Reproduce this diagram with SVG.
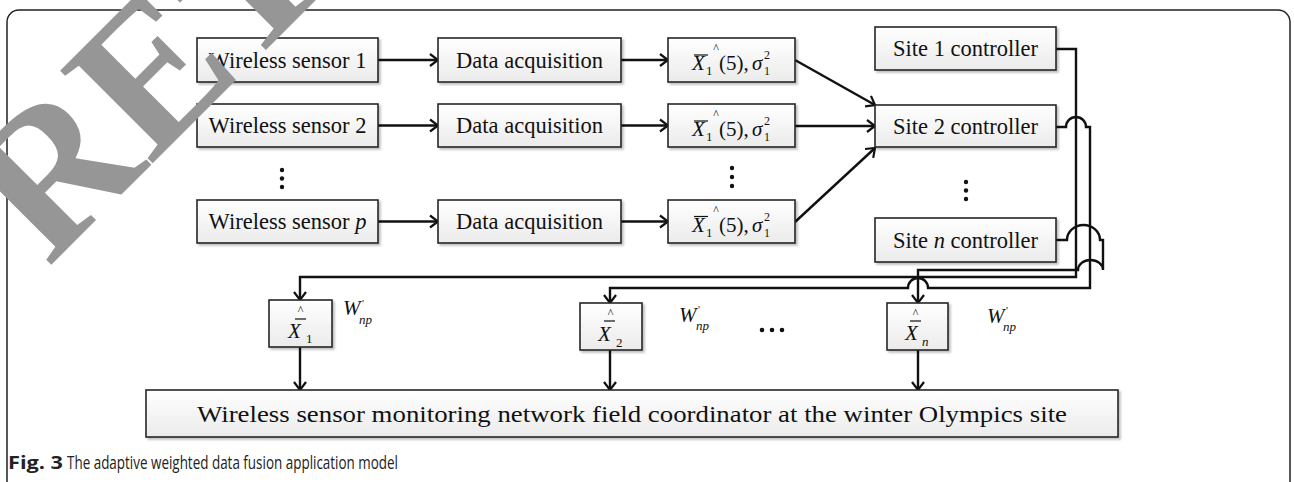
<svg xmlns="http://www.w3.org/2000/svg" width="1294" height="482" viewBox="0 0 1294 482">
<defs>
<linearGradient id="bg" x1="0" y1="0" x2="0" y2="1">
<stop offset="0" stop-color="#ffffff"/>
<stop offset="1" stop-color="#ebebeb"/>
</linearGradient>
<filter id="sh" x="-10%" y="-10%" width="130%" height="140%">
<feDropShadow dx="2" dy="2" stdDeviation="1.2" flood-color="#000" flood-opacity="0.25"/>
</filter>
<marker id="ah" viewBox="-10 -8 12 16" refX="0" refY="0" markerWidth="12" markerHeight="16" markerUnits="userSpaceOnUse" orient="auto">
<path d="M-8,-6 L0,0 L-8,6" fill="none" stroke="#111" stroke-width="2.2"/>
</marker>
<style>
.box{fill:url(#bg);stroke:#262626;stroke-width:1.6;filter:url(#sh)}
.t{font-family:"Liberation Serif","Times New Roman",serif;font-size:22.5px;fill:#111;text-anchor:middle}
.m{font-family:"Liberation Serif","Times New Roman",serif;fill:#111}
.i{font-style:italic}
.c{fill:none;stroke:#111;stroke-width:2.4}
.a{marker-end:url(#ah)}
.bar{stroke:#111;stroke-width:1.2}
.dot{fill:#111}
.cap{font-family:"Open Sans","Liberation Sans",sans-serif;font-size:18px;fill:#222}
</style>
</defs>
<rect x="0" y="0" width="1294" height="482" fill="#fff"/>
<rect id="frame" x="7" y="10" width="1283" height="500" rx="12" ry="12" fill="none" stroke="#222" stroke-width="1.5"/>

<g id="connectors">
<line class="c a" x1="378" y1="60" x2="438" y2="60"/>
<line class="c a" x1="378" y1="125.5" x2="438" y2="125.5"/>
<line class="c a" x1="378" y1="221.5" x2="438" y2="221.5"/>
<line class="c a" x1="621" y1="60" x2="668" y2="60"/>
<line class="c a" x1="621" y1="125.5" x2="668" y2="125.5"/>
<line class="c a" x1="621" y1="221.5" x2="668" y2="221.5"/>
<line class="c a" x1="795" y1="60" x2="875" y2="105"/>
<line class="c a" x1="795" y1="126" x2="875" y2="126"/>
<line class="c a" x1="795" y1="222" x2="875" y2="148"/>
<path class="c a" d="M1056,49 H1076 V277 H300 V300"/>
<path class="c a" d="M1056,127 H1066 A10,10 0 0 1 1086,127 H1090 V288 H928 A10,10 0 0 0 908,288 H610 V303"/>
<path class="c a" d="M1056,240 H1067 A16.5,15 0 0 1 1100,240 H1103 V270 A12.5,10 0 0 0 1078,270 H918 V303"/>
<line class="c a" x1="300" y1="347" x2="300" y2="390"/>
<line class="c a" x1="610" y1="350" x2="610" y2="390"/>
<line class="c a" x1="918" y1="350" x2="918" y2="390"/>
</g>

<g id="ws1"><rect class="box" x="197" y="38" width="181" height="44"/><text class="t" x="287.5" y="67.5">Wireless sensor 1</text></g>
<g id="ws2"><rect class="box" x="197" y="104" width="181" height="43"/><text class="t" x="287.5" y="133">Wireless sensor 2</text></g>
<g id="wsp"><rect class="box" x="197" y="200" width="181" height="43"/><text class="t" x="287.5" y="229">Wireless sensor <tspan class="i">p</tspan></text></g>
<g id="dots1"><circle class="dot" cx="282" cy="170" r="2.2"/><circle class="dot" cx="282" cy="178.5" r="2.2"/><circle class="dot" cx="282" cy="187" r="2.2"/></g>

<g id="da1"><rect class="box" x="438" y="38" width="183" height="44"/><text class="t" x="529.5" y="67.5">Data acquisition</text></g>
<g id="da2"><rect class="box" x="438" y="104" width="183" height="43"/><text class="t" x="529.5" y="133">Data acquisition</text></g>
<g id="da3"><rect class="box" x="438" y="200" width="183" height="43"/><text class="t" x="529.5" y="229">Data acquisition</text></g>

<g id="est1"><rect class="box" x="668" y="38" width="127" height="44"/>
<text class="m i" x="692" y="70" font-size="21">X</text><line class="bar" x1="694" y1="55" x2="708" y2="55"/>
<text class="m" x="706" y="75" font-size="13">1</text><text class="m" x="716" y="52" font-size="12" text-anchor="middle">^</text>
<text class="m" x="719" y="70" font-size="21">(5),</text><text class="m i" x="752" y="70" font-size="21">σ</text>
<text class="m" x="764" y="59" font-size="12">2</text><text class="m" x="764" y="75" font-size="12">1</text></g>
<g id="est2"><rect class="box" x="668" y="104" width="127" height="43"/>
<text class="m i" x="692" y="136" font-size="21">X</text><line class="bar" x1="694" y1="121" x2="708" y2="121"/>
<text class="m" x="706" y="141" font-size="13">1</text><text class="m" x="716" y="118" font-size="12" text-anchor="middle">^</text>
<text class="m" x="719" y="136" font-size="21">(5),</text><text class="m i" x="752" y="136" font-size="21">σ</text>
<text class="m" x="764" y="125" font-size="12">2</text><text class="m" x="764" y="141" font-size="12">1</text></g>
<g id="est3"><rect class="box" x="668" y="200" width="127" height="43"/>
<text class="m i" x="692" y="231.5" font-size="21">X</text><line class="bar" x1="694" y1="216.5" x2="708" y2="216.5"/>
<text class="m" x="706" y="236.5" font-size="13">1</text><text class="m" x="716" y="213.5" font-size="12" text-anchor="middle">^</text>
<text class="m" x="719" y="231.5" font-size="21">(5),</text><text class="m i" x="752" y="231.5" font-size="21">σ</text>
<text class="m" x="764" y="220.5" font-size="12">2</text><text class="m" x="764" y="236.5" font-size="12">1</text></g>
<g id="dots2"><circle class="dot" cx="732" cy="168" r="2.2"/><circle class="dot" cx="732" cy="177" r="2.2"/><circle class="dot" cx="732" cy="186" r="2.2"/></g>

<g id="site1"><rect class="box" x="875" y="27" width="181" height="43"/><text class="t" x="965.5" y="56">Site 1 controller</text></g>
<g id="site2"><rect class="box" x="875" y="105" width="181" height="42"/><text class="t" x="965.5" y="134">Site 2 controller</text></g>
<g id="siten"><rect class="box" x="875" y="218" width="181" height="44"/><text class="t" x="965.5" y="248">Site <tspan class="i">n</tspan> controller</text></g>
<g id="dots3"><circle class="dot" cx="966" cy="182" r="2.2"/><circle class="dot" cx="966" cy="190.5" r="2.2"/><circle class="dot" cx="966" cy="199" r="2.2"/></g>

<g id="x1"><rect class="box" x="269" y="300" width="63" height="47"/>
<text class="m" x="300.5" y="314" font-size="12" text-anchor="middle">^</text><line class="bar" x1="295" y1="319" x2="306" y2="319"/>
<text class="m i" x="288" y="338" font-size="21">X</text><text class="m" x="306" y="343" font-size="13">1</text></g>
<g id="x2"><rect class="box" x="580" y="303" width="62" height="47"/>
<text class="m" x="610.5" y="317" font-size="12" text-anchor="middle">^</text><line class="bar" x1="604" y1="321" x2="615" y2="321"/>
<text class="m i" x="598" y="341" font-size="21">X</text><text class="m" x="616" y="347" font-size="13">2</text></g>
<g id="xn"><rect class="box" x="887" y="303" width="61" height="47"/>
<text class="m" x="915.5" y="317" font-size="12" text-anchor="middle">^</text><line class="bar" x1="910" y1="321" x2="921" y2="321"/>
<text class="m i" x="905" y="340" font-size="21">X</text><text class="m i" x="922" y="346" font-size="13">n</text></g>

<g id="w1"><text class="m i" x="343" y="315" font-size="21">W</text><text class="m" x="362" y="307" font-size="11">'</text><text class="m i" x="359" y="324" font-size="13">np</text></g>
<g id="w2"><text class="m i" x="679" y="322" font-size="21">W</text><text class="m" x="698" y="313" font-size="11">'</text><text class="m i" x="696" y="330" font-size="13">np</text></g>
<g id="wn"><text class="m i" x="987" y="323" font-size="21">W</text><text class="m" x="1006" y="314" font-size="11">'</text><text class="m i" x="1003" y="331" font-size="13">np</text></g>
<g id="ell"><circle class="dot" cx="762" cy="330" r="2.3"/><circle class="dot" cx="772" cy="330" r="2.3"/><circle class="dot" cx="782" cy="330" r="2.3"/></g>

<g id="coord"><rect class="box" x="146" y="390" width="972" height="47"/><text class="t" x="632" y="421.5" font-size="25" textLength="870" lengthAdjust="spacingAndGlyphs">Wireless sensor monitoring network field coordinator at the winter Olympics site</text></g>

<g id="caption"><text class="cap" x="8" y="469" font-weight="bold" textLength="55" lengthAdjust="spacingAndGlyphs">Fig. 3</text><text class="cap" x="67" y="469" textLength="331" lengthAdjust="spacingAndGlyphs">The adaptive weighted data fusion application model</text></g>

<text id="watermark" x="48" y="268" transform="rotate(-45 48 268)" font-family="'Liberation Serif','Times New Roman',serif" font-weight="bold" font-size="200" fill="#969696">RETRACTED</text>
</svg>
